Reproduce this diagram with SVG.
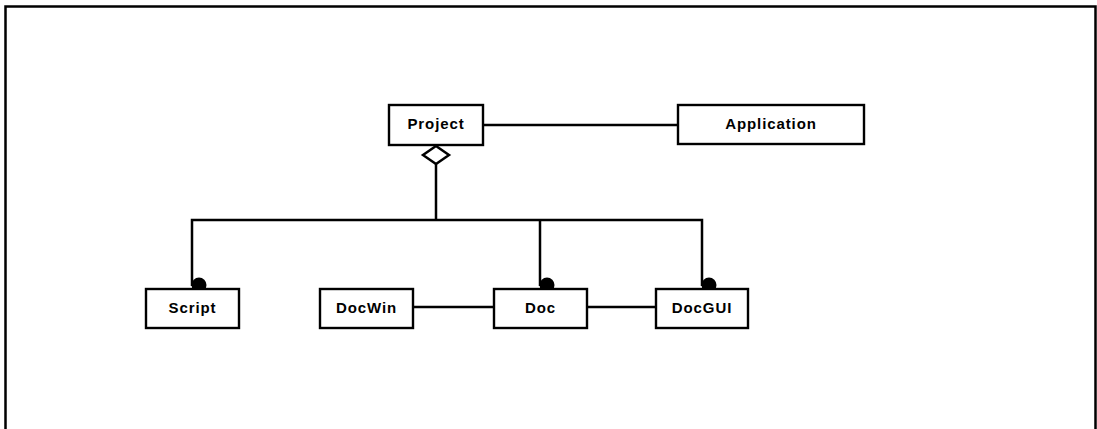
<svg xmlns="http://www.w3.org/2000/svg" width="1097" height="429" viewBox="0 0 1097 429">
  <defs>
    <style>
      .frame { fill: none; stroke: #000; stroke-width: 2.5; }
      .box { fill: #fff; stroke: #000; stroke-width: 2.4; }
      .lbl { font-family: "Liberation Sans", Arial, sans-serif; font-weight: bold; font-size: 15px; fill: #000; text-anchor: middle; letter-spacing: 0.9px; }
      .wire { fill: none; stroke: #000; stroke-width: 2.5; }
      .dot { fill: #000; }
      .diamond { fill: #fff; stroke: #000; stroke-width: 2.5; }
    </style>
  </defs>

  <rect width="1097" height="429" fill="#fff"/>
  <!-- outer frame, open at the bottom -->
  <path class="frame" d="M5.5,429 V6.5 H1095.5 V429"/>

  <g id="connectors">
    <!-- Project to Application -->
    <line class="wire" x1="483" y1="125" x2="678" y2="125"/>
    <!-- aggregation stem from diamond down to the bus -->
    <line class="wire" x1="436" y1="163" x2="436" y2="220"/>
    <!-- bus and drops to the parts -->
    <path class="wire" d="M192,286 V220 H702 V286"/>
    <line class="wire" x1="540" y1="220" x2="540" y2="286"/>
    <!-- peer links -->
    <line class="wire" x1="413" y1="307" x2="494" y2="307"/>
    <line class="wire" x1="587" y1="307" x2="656" y2="307"/>
    <!-- aggregation diamond -->
    <polygon class="diamond" points="436,146 449,155 436,164 423,155"/>
    <!-- filled ends at the parts -->
    <circle class="dot" cx="199" cy="285" r="7.5"/>
    <circle class="dot" cx="547" cy="285" r="7.5"/>
    <circle class="dot" cx="709" cy="285" r="7.5"/>
  </g>

  <g id="project">
    <rect class="box" x="389" y="105" width="94" height="40"/>
    <text class="lbl" x="436" y="129">Project</text>
  </g>
  <g id="application">
    <rect class="box" x="678" y="105" width="186" height="39"/>
    <text class="lbl" x="771" y="129">Application</text>
  </g>
  <g id="script">
    <rect class="box" x="146" y="289" width="93" height="39"/>
    <text class="lbl" x="192.5" y="313">Script</text>
  </g>
  <g id="docwin">
    <rect class="box" x="320" y="289" width="93" height="39"/>
    <text class="lbl" x="366.5" y="313">DocWin</text>
  </g>
  <g id="doc">
    <rect class="box" x="494" y="289" width="93" height="39"/>
    <text class="lbl" x="540.5" y="313">Doc</text>
  </g>
  <g id="docgui">
    <rect class="box" x="656" y="289" width="92" height="39"/>
    <text class="lbl" x="702" y="313">DocGUI</text>
  </g>
</svg>
